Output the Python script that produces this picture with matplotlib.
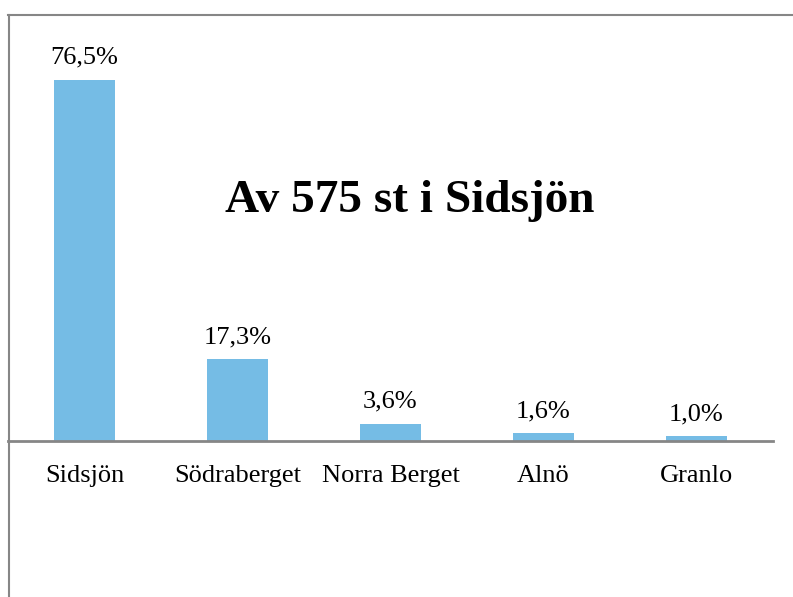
import matplotlib.pyplot as plt
from matplotlib.lines import Line2D

categories = ["Sidsjön", "Södraberget", "Norra Berget", "Alnö", "Granlo"]
shares = [76.5, 17.3, 3.6, 1.6, 1.0]
share_labels = ["76,5%", "17,3%", "3,6%", "1,6%", "1,0%"]
title = "Av 575 st i Sidsjön"

BAR_COLOR = "#75BCE5"
LINE_COLOR = "#868686"
SERIF = ["Liberation Serif", "DejaVu Serif"]

plt.rcParams["font.family"] = SERIF

fig = plt.figure(figsize=(7.93, 5.97), dpi=100)
fig.patch.set_facecolor("white")

# frame of the chart area, cut off at right and bottom
fig.add_artist(Line2D([8 / 793, 1.0], [1 - 14.5 / 597] * 2, color=LINE_COLOR, lw=1.5))
fig.add_artist(Line2D([8.5 / 793] * 2, [0.0, 1 - 14.5 / 597], color=LINE_COLOR, lw=1.5))

ax = fig.add_axes([8 / 793, 1 - 441 / 597, 765 / 793, 427 / 597])
x = range(len(categories))
ax.bar(x, shares, width=0.4, color=BAR_COLOR)
ax.set_xlim(-0.5, len(categories) - 0.5)
ax.set_ylim(0, 90.5)

for xi, v, lab in zip(x, shares, share_labels):
    ax.annotate(lab, (xi, v), xytext=(0, 8), textcoords="offset points",
                ha="center", va="bottom", fontsize=19)

ax.set_xticks(list(x))
ax.set_xticklabels(categories, fontsize=19)
ax.tick_params(axis="x", length=0, pad=17)
ax.set_yticks([])
for side in ["top", "right", "left"]:
    ax.spines[side].set_visible(False)
ax.spines["bottom"].set_color(LINE_COLOR)
ax.spines["bottom"].set_linewidth(2)

fig.text(410 / 793, 1 - 201 / 597, title, ha="center", va="center",
         fontsize=34, fontweight="bold")

fig.savefig("out.png", dpi=100)
plt.close(fig)
